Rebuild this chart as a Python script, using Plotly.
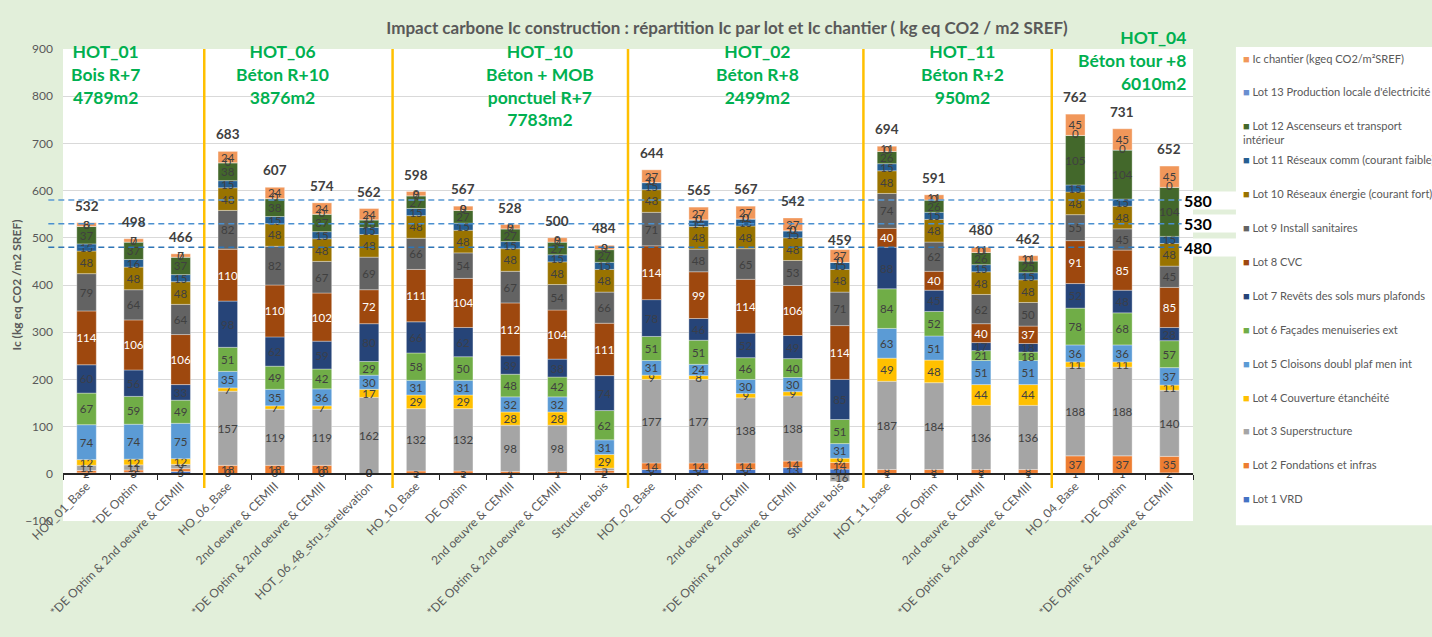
import plotly.graph_objects as go

# ---------------------------------------------------------------------------
# Data: Ic construction per lot and Ic chantier (kg eq CO2 / m2 SREF)
# ---------------------------------------------------------------------------
bar_labels = [
    "HOT_01_Base", "*DE Optim", "*DE Optim & 2nd oeuvre & CEMIII",
    "HO_06_Base", "2nd oeuvre & CEMIII", "*DE Optim & 2nd oeuvre & CEMIII",
    "HOT_06_48_stru_surelevation",
    "HO_10_Base", "DE Optim", "2nd oeuvre & CEMIII",
    "*DE Optim & 2nd oeuvre & CEMIII", "Structure bois",
    "HOT_02_Base", "DE Optim", "2nd oeuvre & CEMIII",
    "*DE Optim & 2nd oeuvre & CEMIII", "Structure bois",
    "HOT_11_base", "DE Optim", "2nd oeuvre & CEMIII",
    "*DE Optim & 2nd oeuvre & CEMIII",
    "HO_04_Base", "*DE Optim", "*DE Optim & 2nd oeuvre & CEMIII",
]

group_titles = [
    "HOT_01<br>Bois R+7<br>4789m2",
    "HOT_06<br>Béton R+10<br>3876m2",
    "HOT_10<br>Béton + MOB<br>ponctuel R+7<br>7783m2",
    "HOT_02<br>Béton R+8<br>2499m2",
    "HOT_11<br>Béton R+2<br>950m2",
    "HOT_04<br>Béton tour +8<br>6010m2",
]
group_sizes = [3, 4, 5, 5, 4, 3]

reference_levels = [580, 530, 480]

lot01_vrd = [2, 3, 5, 0, 0, 0, 0, 1, 1, 1, 1, 2, 9, 9, 9, 13, 10, 1, 1, 1, 1, 1, 1, 2]
lot02_fondations = [5, 5, 6, 18, 18, 18, 0, 5, 5, 4, 4, 5, 14, 14, 14, 14, 14, 8, 8, 8, 8, 37, 37, 35]
lot03_superstructure = [11, 11, 9, 157, 119, 119, 162, 132, 132, 98, 98, 5, 177, 177, 138, 138, -16, 187, 184, 136, 136, 188, 188, 140]
lot04_couverture = [12, 12, 12, 7, 7, 7, 17, 29, 29, 28, 28, 29, 9, 8, 9, 9, 9, 49, 48, 44, 44, 11, 11, 11]
lot05_cloisons = [74, 74, 75, 35, 35, 36, 30, 31, 31, 32, 32, 31, 31, 24, 30, 30, 31, 63, 51, 51, 51, 36, 36, 37]
lot06_facades = [67, 59, 49, 51, 49, 42, 29, 58, 50, 48, 42, 62, 51, 51, 46, 40, 51, 84, 52, 21, 18, 78, 68, 57]
lot07_revetements = [60, 56, 33, 98, 62, 59, 80, 66, 62, 39, 38, 74, 78, 46, 52, 49, 85, 88, 45, 17, 18, 52, 48, 28]
lot08_cvc = [114, 106, 106, 110, 110, 102, 72, 111, 104, 112, 104, 111, 114, 99, 114, 106, 114, 40, 40, 40, 37, 91, 85, 85]
lot09_sanitaires = [79, 64, 64, 82, 82, 67, 69, 66, 54, 67, 54, 66, 71, 48, 65, 53, 71, 74, 62, 62, 50, 55, 45, 45]
lot10_energie = [48, 48, 48, 48, 48, 48, 48, 48, 48, 48, 48, 48, 48, 48, 48, 48, 48, 48, 48, 48, 48, 48, 48, 48]
lot11_comm = [15, 16, 15, 15, 15, 15, 15, 15, 15, 15, 15, 15, 15, 14, 15, 15, 15, 15, 15, 15, 15, 15, 15, 15]
lot12_ascenseurs = [37, 37, 37, 38, 38, 37, 16, 27, 27, 27, 27, 27, 0, 0, 0, 0, 0, 26, 26, 26, 25, 105, 104, 104]
lot13_production = [0] * 24
ic_chantier = [8, 7, 7, 24, 24, 24, 24, 9, 9, 9, 9, 9, 27, 27, 27, 27, 27, 11, 11, 11, 11, 45, 45, 45]

series = [
    ("Lot 1 VRD", "#4472C4", lot01_vrd, "#404040"),
    ("Lot 2 Fondations et infras", "#ED7D31", lot02_fondations, "#404040"),
    ("Lot 3 Superstructure", "#A5A5A5", lot03_superstructure, "#404040"),
    ("Lot 4 Couverture étanchéité", "#FFC000", lot04_couverture, "#404040"),
    ("Lot 5 Cloisons doubl plaf men int", "#5B9BD5", lot05_cloisons, "#404040"),
    ("Lot 6 Façades menuiseries ext", "#70AD47", lot06_facades, "#404040"),
    ("Lot 7 Revêts des sols murs plafonds", "#264478", lot07_revetements, "#3A3F4A"),
    ("Lot 8 CVC", "#9E480E", lot08_cvc, "#FFFFFF"),
    ("Lot 9 Install sanitaires", "#636363", lot09_sanitaires, "#404040"),
    ("Lot 10 Réseaux énergie (courant fort)", "#997300", lot10_energie, "#404040"),
    ("Lot 11 Réseaux comm (courant faible)", "#255E91", lot11_comm, "#404040"),
    ("Lot 12 Ascenseurs et transport<br>intérieur", "#43682B", lot12_ascenseurs, "#404040"),
    ("Lot 13 Production locale d'électricité", "#698ED0", lot13_production, "#404040"),
    ("Ic chantier (kgeq CO2/m²SREF)", "#F1975A", ic_chantier, "#404040"),
]

FONT = "Lato"
GREY = "#595959"

n = len(bar_labels)
cat_ids = [f"b{i:02d}" for i in range(n)]

fig = go.Figure()

# Stacked segments; zero-valued segments get their "0" label from a text trace
stack_top = [0] * n
zero_x, zero_y = [], []
for name, color, vals, txt_color in series:
    for i, v in enumerate(vals):
        if v == 0:
            zero_x.append(cat_ids[i])
            zero_y.append(stack_top[i])
        elif v > 0:
            stack_top[i] += v
    fig.add_trace(go.Bar(
        x=cat_ids, y=vals, name=name.replace("<br>", " "),
        marker=dict(color=color, line=dict(color="rgba(255,255,255,0.55)", width=0.6)),
        text=[str(v) if v != 0 else "" for v in vals],
        textposition="inside", insidetextanchor="middle", textangle=0,
        textfont=dict(family=FONT, size=11.5, color=txt_color),
        constraintext="none", cliponaxis=False, showlegend=False,
    ))

fig.add_trace(go.Scatter(
    x=zero_x, y=zero_y, mode="text", text=["0"] * len(zero_x),
    textfont=dict(family=FONT, size=11.5, color="#404040"),
    cliponaxis=False, showlegend=False, hoverinfo="skip",
))

annotations = []

# Totals above each bar
totals = [sum(s[2][i] for s in series) for i in range(n)]
for cid, tot in zip(cat_ids, totals):
    annotations.append(dict(
        x=cid, y=tot, xref="x", yref="y", text=f"<b>{tot}</b>", showarrow=False,
        yanchor="middle", yshift=17,
        font=dict(family=FONT, size=13.5, color="#404040"),
    ))

# Group headings and separators
shapes = []
title_x = [0.4, 4.17, 9.63, 14.24, 18.6, 23.4]
title_top = [1.021, 1.021, 1.021, 1.021, 1.021, 1.051]
title_anchor = ["center"] * 5 + ["right"]
start = 0
for k, (title, size) in enumerate(zip(group_titles, group_sizes)):
    annotations.append(dict(
        x=title_x[k], y=title_top[k], xref="x", yref="paper", text=f"<b>{title}</b>",
        showarrow=False, xanchor=title_anchor[k], yanchor="top", align=title_anchor[k],
        font=dict(family=FONT, size=17.5, color="#00B050"),
    ))
    start += size
    if start < n:
        shapes.append(dict(
            type="line", xref="x", yref="y", x0=start - 0.5, x1=start - 0.5,
            y0=-30, y1=913, line=dict(color="#FFC000", width=2.5), layer="above",
        ))

# Reference levels
level_colors = ["#5B9BD5", "#4A90D0", "#2E75B6"]
for lvl, col in zip(reference_levels, level_colors):
    shapes.append(dict(
        type="line", xref="paper", yref="y", x0=-0.013, x1=0.99, y0=lvl, y1=lvl,
        line=dict(color=col, width=1.5, dash="6px,4px"), layer="above",
    ))
    annotations.append(dict(
        x=0.991, y=lvl, xref="paper", yref="y", text=f"<b>{lvl}</b>", showarrow=False,
        xanchor="left", yanchor="middle", align="left", width=52, height=17,
        bgcolor="white", borderpad=0,
        font=dict(family=FONT, size=16, color="#000000"),
    ))

# Legend panel (top item: Ic chantier, bottom item: Lot 1)
shapes.append(dict(
    type="rect", xref="paper", yref="paper", x0=1.038, x1=1.26, y0=-0.009, y1=1.004,
    fillcolor="white", line=dict(width=0), layer="below",
))
plot_top_px, plot_h_px = 49, 472
for k, (name, color, _, _) in enumerate(reversed(series)):
    y_px = 57 + 33.9 * k
    annotations.append(dict(
        x=1.0425, y=1 - (y_px - 7.5 - plot_top_px) / plot_h_px, xref="paper", yref="paper",
        text=f"<span style='color:{color}'>■</span> {name}",
        showarrow=False, xanchor="left", yanchor="top", align="left",
        font=dict(family=FONT, size=11.1, color=GREY),
    ))

fig.update_layout(
    width=1432, height=637,
    margin=dict(l=63, r=239, t=49, b=116),
    paper_bgcolor="#E2EFDA", plot_bgcolor="white",
    barmode="relative", bargap=0.586,
    uniformtext=dict(minsize=11.5, mode="show"),
    showlegend=False,
    title=dict(
        text="<b>Impact carbone Ic construction : répartition Ic par lot et Ic chantier ( kg eq CO2 / m2 SREF)</b>",
        x=0.5077, xanchor="center", y=0.956, yanchor="middle",
        font=dict(family=FONT, size=17, color=GREY),
    ),
    xaxis=dict(
        type="category", categoryorder="array", categoryarray=cat_ids,
        range=[-0.5, n - 0.5], autorange=False,
        tickvals=cat_ids, ticktext=bar_labels, tickangle=-45,
        tickfont=dict(family=FONT, size=12, color=GREY),
        anchor="free", position=0.1,
        showline=True, linecolor="#262626", linewidth=1.5,
        ticks="outside", tickson="boundaries", ticklen=5, tickcolor="#262626",
        showgrid=False, zeroline=False,
    ),
    yaxis=dict(
        range=[-100, 900], dtick=100, tick0=0,
        showgrid=True, gridcolor="#D9D9D9", gridwidth=1,
        zeroline=False, showline=False, ticks="",
        ticklabelstandoff=9,
        tickfont=dict(family=FONT, size=12, color=GREY),
        title=dict(text="<b>Ic (kg eq CO2 /m2 SREF)</b>", standoff=0,
                   font=dict(family=FONT, size=12, color=GREY)),
    ),
    annotations=annotations,
    shapes=shapes,
)

fig.write_html("out.html")
